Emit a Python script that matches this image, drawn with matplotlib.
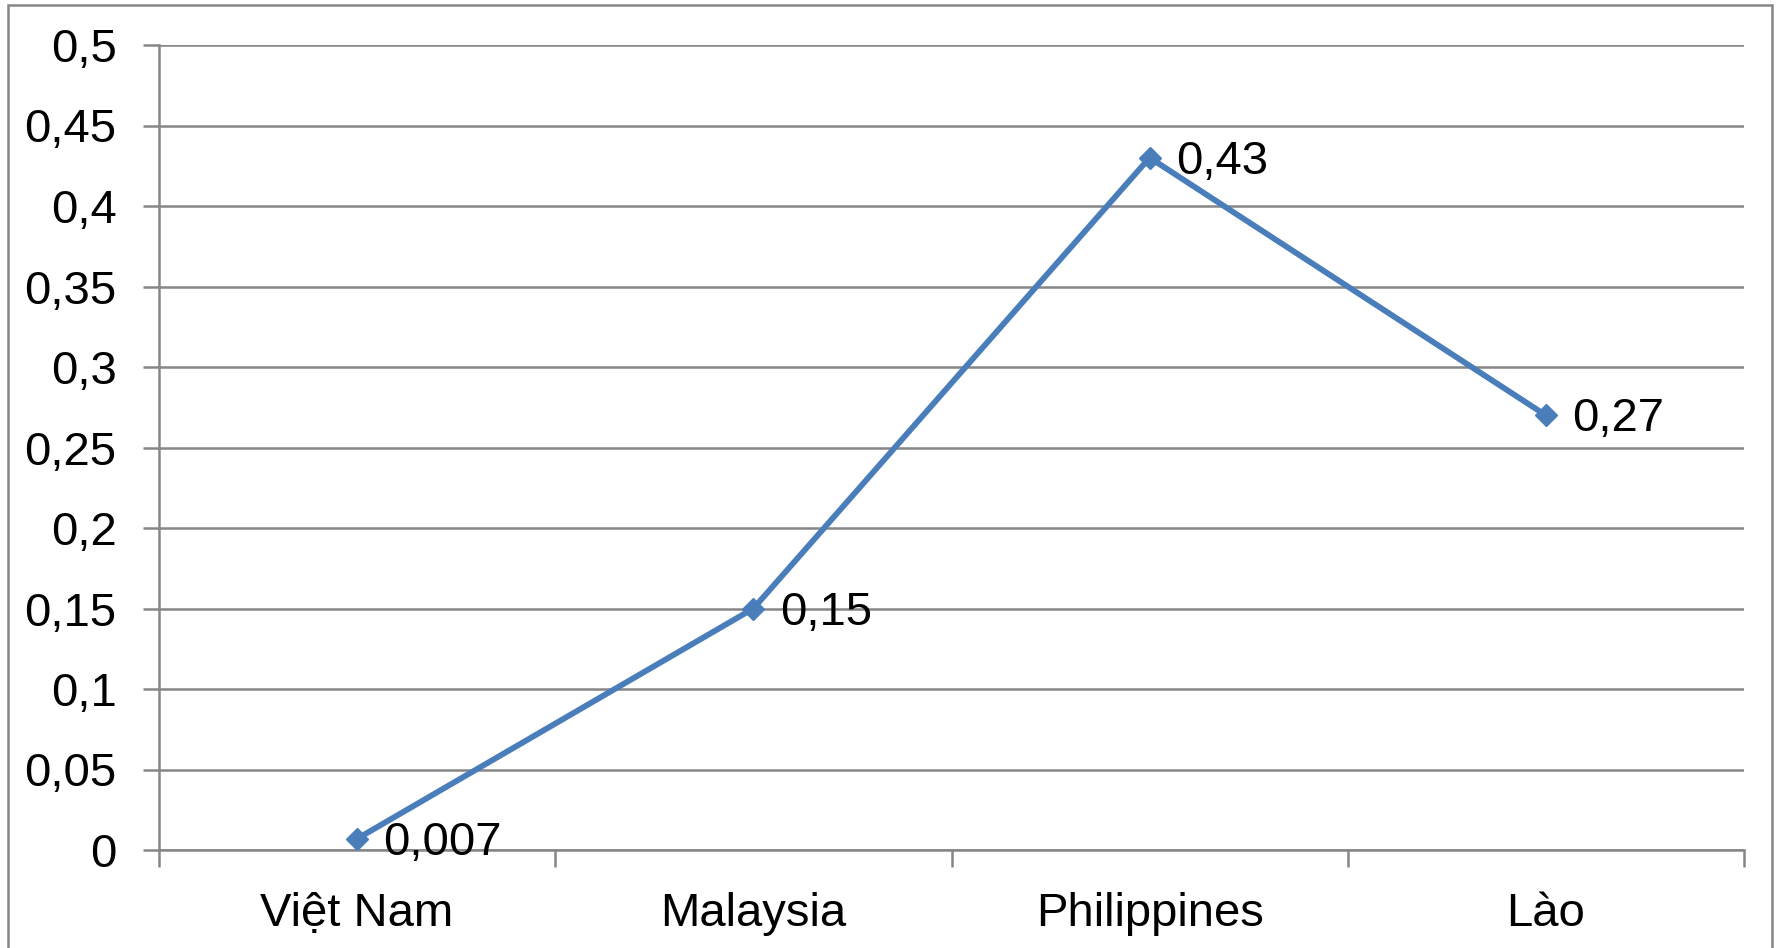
# Line chart of rates by country, Excel-style gray grid and frame

import matplotlib.pyplot as plt
from matplotlib.patches import Rectangle
from matplotlib.ticker import FuncFormatter

countries = ["Việt Nam", "Malaysia", "Philippines", "Lào"]
values = [0.007, 0.15, 0.43, 0.27]
value_labels = ["0,007", "0,15", "0,43", "0,27"]

y_ticks = [0, 0.05, 0.1, 0.15, 0.2, 0.25, 0.3, 0.35, 0.4, 0.45, 0.5]

LINE_BLUE = "#4a7ebb"
GRID_GRAY = "#868686"
FONT_SIZE = 34


def comma_fmt(v, _pos):
    # decimal comma, no trailing zeros
    s = f"{v:.2f}".rstrip("0").rstrip(".")
    return s.replace(".", ",")


def main() -> None:
    plt.rcParams["font.family"] = ["Liberation Sans", "DejaVu Sans"]

    fig = plt.figure(figsize=(17.77, 9.48), dpi=100)
    ax = fig.add_axes([159 / 1777, 1 - 850 / 948, (1744 - 159) / 1777, (850 - 45) / 948])

    # outer chart border (bottom edge falls outside the image)
    fig.patches.append(Rectangle((8 / 1777, -0.05), (1772 - 8) / 1777, 1.05 - 5 / 948,
                                 transform=fig.transFigure, fill=False,
                                 edgecolor=GRID_GRAY, linewidth=1.8))

    x = list(range(len(countries)))
    ax.plot(x, values, color=LINE_BLUE, linewidth=4.2, marker="D",
            markersize=11, markeredgecolor=LINE_BLUE, zorder=3)

    for xi, v, lab in zip(x, values, value_labels):
        ax.annotate(lab, (xi, v), xytext=(19, -3), textcoords="offset points",
                    ha="left", va="center", fontsize=FONT_SIZE, color="black", zorder=4)

    ax.set_xlim(-0.5, len(countries) - 0.5)
    ax.set_ylim(0, 0.5)

    ax.set_yticks(y_ticks)
    ax.yaxis.set_major_formatter(FuncFormatter(comma_fmt))
    ax.grid(axis="y", color=GRID_GRAY, linewidth=1.8)
    ax.set_axisbelow(True)

    # category boundaries get the tick marks, centres get the labels
    ax.set_xticks([i - 0.5 for i in range(len(countries) + 1)])
    ax.set_xticklabels([])
    ax.set_xticks(x, minor=True)
    ax.set_xticklabels(countries, minor=True)

    ax.tick_params(axis="y", which="major", length=11.5, width=1.8, color=GRID_GRAY,
                   pad=19, labelsize=FONT_SIZE)
    ax.tick_params(axis="x", which="major", length=12, width=1.8, color=GRID_GRAY)
    ax.tick_params(axis="x", which="minor", length=0, pad=30, labelsize=FONT_SIZE)

    for side in ("top", "right"):
        ax.spines[side].set_visible(False)
    for side in ("left", "bottom"):
        ax.spines[side].set_color(GRID_GRAY)
        ax.spines[side].set_linewidth(1.8)

    fig.savefig("out.png", dpi=100)
    plt.close(fig)


if __name__ == "__main__":
    main()
